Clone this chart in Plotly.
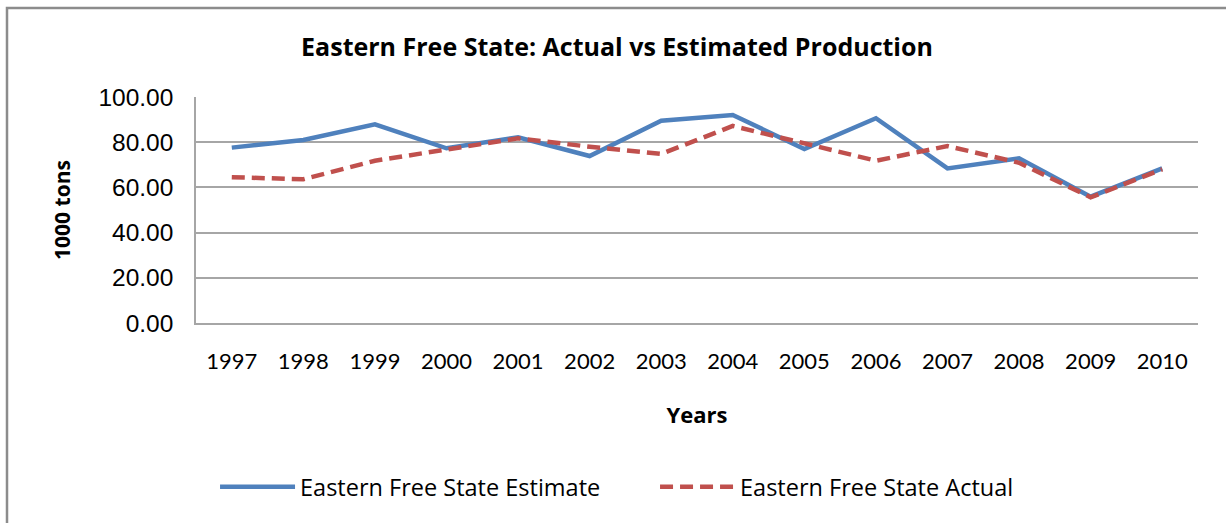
import plotly.graph_objects as go

# Annual production, thousand tons
years = [1997, 1998, 1999, 2000, 2001, 2002, 2003, 2004, 2005, 2006, 2007, 2008, 2009, 2010]
estimate = [77.6, 81.0, 87.9, 77.3, 82.2, 73.9, 89.5, 92.0, 77.0, 90.6, 68.4, 72.9, 55.9, 68.4]
actual = [64.5, 63.6, 71.8, 76.8, 81.7, 78.0, 74.8, 87.2, 79.5, 71.8, 78.3, 70.9, 55.6, 68.0]
y_ticks = [0, 20, 40, 60, 80, 100]

label_font = "Lato, Open Sans, sans-serif"
heading_font = "Open Sans, Lato, sans-serif"
grid_color = "#A6A6A6"

x_idx = list(range(len(years)))

fig = go.Figure()
fig.add_trace(go.Scatter(
    x=x_idx, y=estimate, mode="lines", name="Eastern Free State Estimate",
    line=dict(color="#4F81BD", width=4.5),
))
fig.add_trace(go.Scatter(
    x=x_idx, y=actual, mode="lines", name="Eastern Free State Actual",
    line=dict(color="#C0504D", width=4.5, dash="13px,7px"),
))

fig.update_layout(
    width=1226, height=523,
    margin=dict(l=196, r=28, t=97, b=200, autoexpand=False),
    paper_bgcolor="white", plot_bgcolor="white",
    showlegend=True,
    title=dict(
        text="<b>Eastern Free State: Actual vs Estimated Production</b>",
        x=617 / 1226, xanchor="center", y=1 - 47 / 523, yanchor="middle",
        font=dict(family=heading_font, size=25, color="#000000"),
    ),
    legend=dict(
        orientation="h", x=0.019, xanchor="left", y=(323 - 487) / 226, yanchor="middle",
        font=dict(family=heading_font, size=23.5, color="#000000"),
        itemwidth=75, entrywidth=350, bgcolor="rgba(0,0,0,0)",
    ),
    xaxis=dict(
        range=[-0.5, len(years) - 0.5],
        tickmode="array", tickvals=x_idx, ticktext=[str(y) for y in years],
        showgrid=False, zeroline=False,
        showline=True, linecolor=grid_color, linewidth=1.5,
        ticks="", ticklabelstandoff=18,
        tickfont=dict(family=label_font, size=22, color="#000000"),
        title=dict(text="<b>Years</b>", font=dict(family=heading_font, size=22, color="#000000"), standoff=34),
    ),
    yaxis=dict(
        range=[0, 100], tickmode="array", tickvals=y_ticks,
        ticktext=[f"{v:.2f}" for v in y_ticks],
        showgrid=True, gridcolor=grid_color, gridwidth=1.5,
        zeroline=False, showline=True, linecolor=grid_color, linewidth=1.5,
        ticks="", ticklabelstandoff=16,
        tickfont=dict(family="Liberation Sans, Arial, sans-serif", size=24.5, color="#000000"),
        title=dict(text="<b>1000 tons</b>", font=dict(family=heading_font, size=21, color="#000000"), standoff=22),
    ),
    shapes=[dict(
        type="rect", xref="paper", yref="paper",
        x0=(7 - 196) / 1002, x1=(1240 - 196) / 1002,
        y0=(323 - 540) / 226, y1=(323 - 8) / 226,
        line=dict(color="#8C8C8C", width=2.5), fillcolor="rgba(0,0,0,0)", layer="below",
    )],
)

fig.write_html("out.html")
